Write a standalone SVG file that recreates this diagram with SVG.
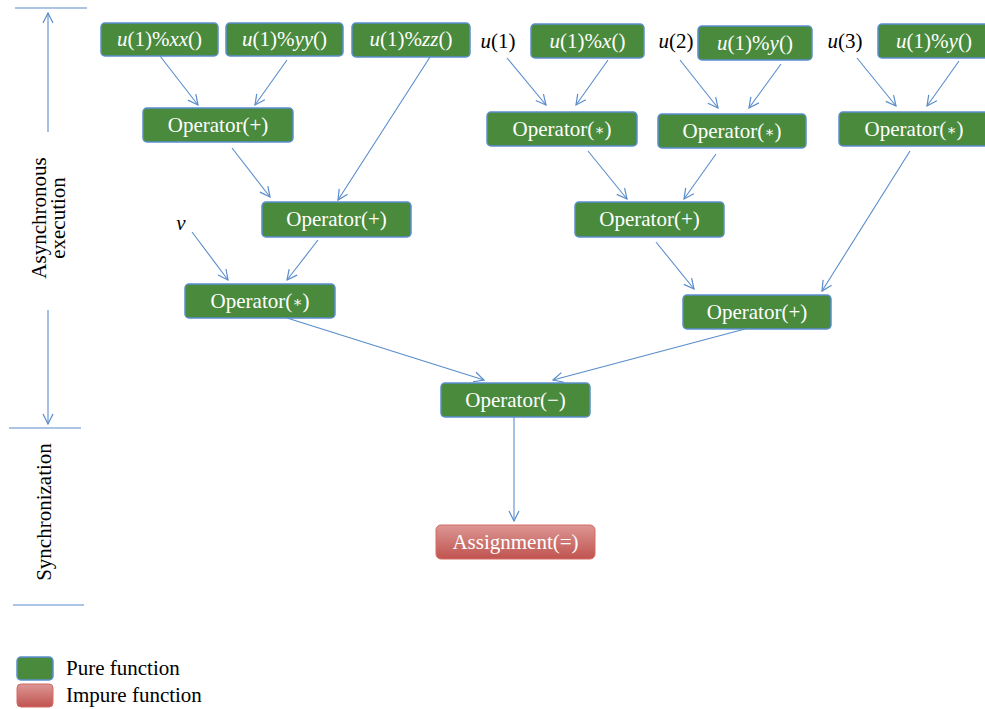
<svg xmlns="http://www.w3.org/2000/svg" width="985" height="709" viewBox="0 0 985 709">
<style>
.t{font-family:'Liberation Serif','DejaVu Serif',serif;font-size:21px}
.w{fill:#ffffff}
.k{fill:#000000}
.g{fill:#4a8a3d;stroke:#5b8fd0;stroke-width:1.5}
.r{fill:url(#rg);stroke:#d46a66;stroke-width:1}
.c{stroke:#5a8ccb;stroke-width:1.1;fill:none}
.i{font-style:italic}
.s{font-size:15px}
</style>
<defs>
<marker id="ah" viewBox="0 0 12 12" refX="11" refY="6" markerWidth="12" markerHeight="12" markerUnits="userSpaceOnUse" orient="auto">
<path d="M1,1 L11,6 L1,11" fill="none" stroke="#5a8ccb" stroke-width="1.2"/>
</marker>
<linearGradient id="rg" x1="0" y1="0" x2="0" y2="1">
<stop offset="0" stop-color="#dc9794"/>
<stop offset="1" stop-color="#c0534f"/>
</linearGradient>
</defs>

<g id="axis">
<line x1="15" y1="8" x2="87" y2="8" class="c"/>
<line x1="48" y1="132" x2="48" y2="13" class="c" marker-end="url(#ah)"/>
<line x1="48" y1="310" x2="48" y2="424" class="c" marker-end="url(#ah)"/>
<line x1="9" y1="428" x2="81" y2="428" class="c"/>
<line x1="13" y1="605" x2="84" y2="605" class="c"/>
<text class="t k" transform="translate(46,218) rotate(-90)" text-anchor="middle">Asynchronous</text>
<text class="t k" transform="translate(65,218) rotate(-90)" text-anchor="middle">execution</text>
<text class="t k" transform="translate(51,512) rotate(-90)" text-anchor="middle">Synchronization</text>
</g>

<g id="connectors">
<line x1="160" y1="56" x2="198" y2="105" class="c" marker-end="url(#ah)"/>
<line x1="287" y1="60" x2="255" y2="105" class="c" marker-end="url(#ah)"/>
<line x1="232" y1="148" x2="270" y2="197" class="c" marker-end="url(#ah)"/>
<line x1="430" y1="57" x2="338" y2="200" class="c" marker-end="url(#ah)"/>
<line x1="192" y1="232" x2="228" y2="280" class="c" marker-end="url(#ah)"/>
<line x1="318" y1="240" x2="287" y2="280" class="c" marker-end="url(#ah)"/>
<line x1="507" y1="58" x2="546" y2="105" class="c" marker-end="url(#ah)"/>
<line x1="608" y1="60" x2="576" y2="105" class="c" marker-end="url(#ah)"/>
<line x1="680" y1="60" x2="718" y2="108" class="c" marker-end="url(#ah)"/>
<line x1="781" y1="64" x2="749" y2="108" class="c" marker-end="url(#ah)"/>
<line x1="857" y1="58" x2="896" y2="106" class="c" marker-end="url(#ah)"/>
<line x1="959" y1="61" x2="927" y2="106" class="c" marker-end="url(#ah)"/>
<line x1="588" y1="151" x2="627" y2="199" class="c" marker-end="url(#ah)"/>
<line x1="716" y1="154" x2="684" y2="199" class="c" marker-end="url(#ah)"/>
<line x1="910" y1="151" x2="822" y2="291" class="c" marker-end="url(#ah)"/>
<line x1="656" y1="242" x2="694" y2="289" class="c" marker-end="url(#ah)"/>
<line x1="287" y1="318" x2="484" y2="380" class="c" marker-end="url(#ah)"/>
<line x1="745" y1="329" x2="553" y2="380" class="c" marker-end="url(#ah)"/>
<line x1="514" y1="417" x2="514" y2="521" class="c" marker-end="url(#ah)"/>
</g>

<g id="n_xx"><rect x="101" y="23" width="117" height="33" rx="4" class="g"/>
<text class="t w" x="159.5" y="46" text-anchor="middle"><tspan class="i">u</tspan>(1)%<tspan class="i">xx</tspan>()</text></g>
<g id="n_yy"><rect x="226" y="23" width="117" height="33" rx="4" class="g"/>
<text class="t w" x="284.5" y="46" text-anchor="middle"><tspan class="i">u</tspan>(1)%<tspan class="i">yy</tspan>()</text></g>
<g id="n_zz"><rect x="352" y="23" width="118" height="34" rx="4" class="g"/>
<text class="t w" x="411" y="46" text-anchor="middle"><tspan class="i">u</tspan>(1)%<tspan class="i">zz</tspan>()</text></g>
<g id="n_add1"><rect x="143" y="108" width="150" height="34" rx="4" class="g"/>
<text class="t w" x="218" y="132" text-anchor="middle">Operator(+)</text></g>
<g id="n_add2"><rect x="262" y="202" width="149" height="35" rx="4" class="g"/>
<text class="t w" x="336.5" y="226" text-anchor="middle">Operator(+)</text></g>
<g id="l_nu"><text class="t k i" x="181" y="230" text-anchor="middle">ν</text></g>
<g id="n_mul_left"><rect x="185" y="284" width="150" height="34" rx="4" class="g"/>
<text class="t w" x="260" y="308" text-anchor="middle">Operator(<tspan class="s" dy="-1">∗</tspan><tspan dy="1">)</tspan></text></g>

<g id="l_u1"><text class="t k" x="498" y="48" text-anchor="middle"><tspan class="i">u</tspan>(1)</text></g>
<g id="n_x"><rect x="531" y="24" width="113" height="34" rx="4" class="g"/>
<text class="t w" x="587.5" y="48" text-anchor="middle"><tspan class="i">u</tspan>(1)%<tspan class="i">x</tspan>()</text></g>
<g id="l_u2"><text class="t k" x="676" y="48" text-anchor="middle"><tspan class="i">u</tspan>(2)</text></g>
<g id="n_y2"><rect x="698" y="26" width="114" height="34" rx="4" class="g"/>
<text class="t w" x="755" y="50" text-anchor="middle"><tspan class="i">u</tspan>(1)%<tspan class="i">y</tspan>()</text></g>
<g id="l_u3"><text class="t k" x="845" y="48" text-anchor="middle"><tspan class="i">u</tspan>(3)</text></g>
<g id="n_y3"><rect x="878" y="24" width="112" height="34" rx="4" class="g"/>
<text class="t w" x="934" y="48" text-anchor="middle"><tspan class="i">u</tspan>(1)%<tspan class="i">y</tspan>()</text></g>

<g id="n_mul1"><rect x="487" y="112" width="150" height="34" rx="4" class="g"/>
<text class="t w" x="562" y="136" text-anchor="middle">Operator(<tspan class="s" dy="-1">∗</tspan><tspan dy="1">)</tspan></text></g>
<g id="n_mul2"><rect x="658" y="114" width="148" height="34" rx="4" class="g"/>
<text class="t w" x="732" y="138" text-anchor="middle">Operator(<tspan class="s" dy="-1">∗</tspan><tspan dy="1">)</tspan></text></g>
<g id="n_mul3"><rect x="839" y="112" width="150" height="34" rx="4" class="g"/>
<text class="t w" x="914" y="136" text-anchor="middle">Operator(<tspan class="s" dy="-1">∗</tspan><tspan dy="1">)</tspan></text></g>
<g id="n_add_mid"><rect x="575" y="202" width="149" height="35" rx="4" class="g"/>
<text class="t w" x="649.5" y="226" text-anchor="middle">Operator(+)</text></g>
<g id="n_add_right"><rect x="683" y="295" width="148" height="34" rx="4" class="g"/>
<text class="t w" x="757" y="319" text-anchor="middle">Operator(+)</text></g>
<g id="n_sub"><rect x="441" y="383" width="149" height="34" rx="4" class="g"/>
<text class="t w" x="515.5" y="407" text-anchor="middle">Operator(−)</text></g>
<g id="n_assign"><rect x="436" y="525" width="159" height="34" rx="5" class="r"/>
<text class="t w" x="515.5" y="549" text-anchor="middle">Assignment(=)</text></g>

<g id="legend">
<rect x="17" y="657" width="36" height="23" rx="4" class="g"/>
<rect x="17" y="684" width="36" height="23" rx="4" class="r"/>
<text class="t k" x="66" y="675">Pure function</text>
<text class="t k" x="66" y="702">Impure function</text>
</g>
</svg>
